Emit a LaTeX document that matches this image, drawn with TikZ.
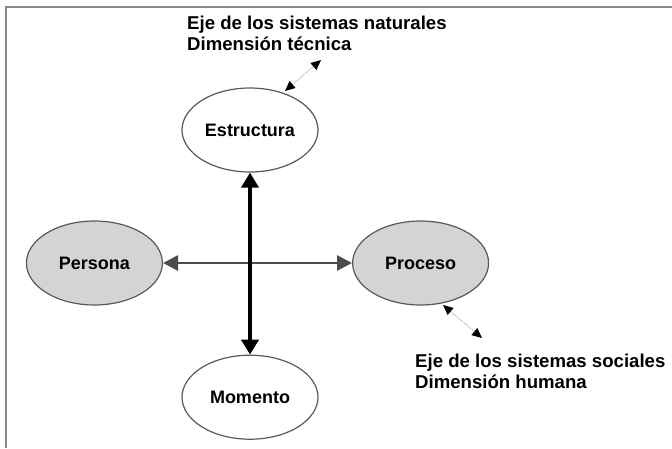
\documentclass[tikz,border=0pt]{standalone}
\usepackage{fontspec}
\setmainfont{Liberation Sans}
\usepackage{tikz}
\usetikzlibrary{positioning,shapes.geometric,arrows.meta}
\definecolor{ellgrey}{HTML}{D4D4D4}
\definecolor{framegrey}{HTML}{8A8A8A}

\begin{document}
\begin{tikzpicture}[x=1pt, y=-1pt,
    whitenode/.style={ellipse, draw=black!65, fill=white, line width=1.2pt, minimum width=136pt, minimum height=84pt, inner sep=0pt, font=\bfseries\fontsize{18}{21}\selectfont},
    greynode/.style={whitenode, fill=ellgrey},
    axislabel/.style={anchor=north west, align=left, inner sep=0pt, font=\bfseries\fontsize{18.6}{21}\selectfont},
    sidearrow/.style={{Triangle[length=10pt,width=9pt,color=black]}-{Triangle[length=10pt,width=9pt,color=black]}, draw=black!30, densely dotted, line width=1pt}
]
\useasboundingbox (0,0) rectangle (672,448);
% frame
\draw[framegrey, line width=2.5pt] (6,448) -- (6,7) -- (672,7);

\node[whitenode](estructura) at (250,130){Estructura};
\node[whitenode](momento)[below=182pt of estructura]{Momento};
\coordinate (centre) at (250,263);
\node[greynode](persona)[left=87pt of centre]{Persona};
\node[greynode](proceso)[right=102pt of centre]{Proceso};

\draw[{Triangle[length=15pt,width=15pt]}-{Triangle[length=15pt,width=15pt]}, draw=black!70, line width=2.8pt] (persona) -- (proceso);
\draw[{Triangle[length=15pt,width=17pt]}-{Triangle[length=15pt,width=17pt]}, line width=4pt] (estructura) -- (momento);

\node[axislabel](naturales) at (187,15.5){Eje de los sistemas naturales\\Dimensión técnica};
\node[axislabel](sociales) at (415,353.5){Eje de los sistemas sociales\\Dimensión humana};

\coordinate (natin) at (285,91);
\coordinate (natout) at (321,60);
\coordinate (socin) at (443,305);
\coordinate (socout) at (482,338);
\draw[sidearrow] (natin) -- (natout);
\draw[sidearrow] (socin) -- (socout);
\end{tikzpicture}
\end{document}
